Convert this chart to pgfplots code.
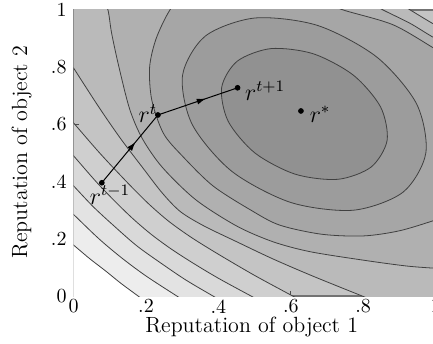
\documentclass[border=0pt]{standalone}
\usepackage{pgfplots}
\pgfplotsset{compat=1.18}
\usetikzlibrary{decorations.markings,arrows.meta}
\definecolor{sA}{gray}{0.57}
\definecolor{sB}{gray}{0.61}
\definecolor{sC}{gray}{0.65}
\definecolor{sD}{gray}{0.69}
\definecolor{sE}{gray}{0.73}
\definecolor{sF}{gray}{0.77}
\definecolor{sG}{gray}{0.81}
\definecolor{sH}{gray}{0.85}
\definecolor{sI}{gray}{0.89}
\definecolor{sJ}{gray}{0.93}
\tikzset{cont/.style={draw=black!75, line width=0.4pt, smooth cycle}}
\begin{document}
\begin{tikzpicture}
\path[use as bounding box] (-36.8pt,-23.5pt) rectangle (179.7pt,148pt);
\begin{axis}[
  scale only axis, width=181pt, height=143pt,
  xmin=0, xmax=1, ymin=0, ymax=1,
  xtick={0,0.2,0.4,0.6,0.8,1}, xticklabels={0,.2,.4,.6,.8,1},
  ytick={0,0.2,0.4,0.6,0.8,1}, yticklabels={0,.2,.4,.6,.8,1},
  xtick pos=left, ytick pos=left, tick align=inside, major tick length=2.5pt,
  tick style={black!70, line width=0.5pt},
  axis line style={draw=black!55, line width=0.8pt},
  axis background/.style={fill=sF},
  ticklabel style={font=\fontsize{10}{12}\selectfont},
  xticklabel style={yshift=1.8pt},
  label style={font=\fontsize{11}{13}\selectfont},
  xlabel={Reputation of object 1}, ylabel={Reputation of object 2},
  xlabel style={at={(axis description cs:0.492,-0.108)}, anchor=center},
  ylabel style={at={(axis description cs:-0.1436,0.503)}, anchor=center},
]
% lower-left regions (outer contours)
\addplot[cont, fill=sG] coordinates {(-0.14,0.81) (-0.045,0.67) (0,0.605) (0.072,0.50) (0.146,0.40) (0.205,0.325) (0.262,0.262) (0.325,0.205) (0.40,0.146) (0.50,0.072) (0.605,0) (0.67,-0.045) (0.81,-0.14) (-0.3,-0.3)};
\addplot[cont, fill=sH] coordinates {(-0.13,0.68) (-0.04,0.548) (0,0.49) (0.062,0.40) (0.115,0.33) (0.164,0.27) (0.215,0.215) (0.27,0.164) (0.33,0.115) (0.40,0.062) (0.49,0) (0.548,-0.04) (0.68,-0.13) (-0.3,-0.3)};
\addplot[cont, fill=sI] coordinates {(-0.12,0.55) (-0.04,0.44) (0,0.385) (0.056,0.31) (0.116,0.24) (0.175,0.175) (0.24,0.116) (0.31,0.056) (0.385,0) (0.44,-0.04) (0.55,-0.12) (-0.3,-0.3)};
\addplot[cont, fill=sJ] coordinates {(-0.12,0.43) (-0.04,0.334) (0,0.285) (0.07,0.20) (0.133,0.133) (0.20,0.07) (0.285,0) (0.334,-0.04) (0.43,-0.12) (-0.3,-0.3)};
\addplot[cont, fill=white] coordinates {(-0.12,0.31) (-0.04,0.22) (0,0.178) (0.045,0.13) (0.088,0.088) (0.13,0.045) (0.178,0) (0.22,-0.04) (0.31,-0.12) (-0.3,-0.3)};
% C5
\addplot[cont, fill=sE] coordinates {(-0.1,1.05) (-0.035,0.866) (0,0.797) (0.07,0.66) (0.13,0.55) (0.19,0.45) (0.245,0.36) (0.295,0.295) (0.36,0.245) (0.45,0.19) (0.55,0.13) (0.66,0.07) (0.797,0) (0.866,-0.035) (1.05,-0.1) (1.3,0.3) (1.25,0.75) (1.1,0.88) (1.0,0.947) (0.93,1.0) (0.86,1.053) (0.75,1.12) (0.45,1.25) (0.1,1.22)};
% C4
\addplot[cont, fill=sD] coordinates {(0.095,1.0) (0.105,0.919) (0.125,0.802) (0.155,0.653) (0.19,0.55) (0.245,0.45) (0.337,0.337) (0.45,0.245) (0.55,0.19) (0.653,0.155) (0.802,0.125) (0.919,0.105) (1.0,0.097) (1.08,0.092) (1.25,0.3) (1.25,0.7) (1.09,0.845) (1.0,0.90) (0.93,0.953) (0.855,1.0) (0.78,1.05) (0.65,1.13) (0.4,1.2) (0.2,1.2) (0.075,1.08)};
% C3
\addplot[cont, fill=sC] coordinates {(0.266,1.0) (0.228,0.90) (0.210,0.80) (0.216,0.685) (0.248,0.569) (0.30,0.49) (0.385,0.385) (0.49,0.30) (0.569,0.248) (0.685,0.216) (0.80,0.21) (0.90,0.228) (1.0,0.266) (1.06,0.295) (1.15,0.45) (1.12,0.72) (1.05,0.83) (1.0,0.863) (0.883,0.948) (0.745,1.0) (0.66,1.04) (0.45,1.08) (0.31,1.06)};
% C2
\addplot[cont, fill=sB] coordinates {(0.837,0.836) (0.947,0.673) (0.973,0.500) (0.910,0.363) (0.773,0.300) (0.600,0.327) (0.437,0.436) (0.328,0.599) (0.301,0.772) (0.364,0.909) (0.501,0.972) (0.674,0.946)};
% C1
\addplot[cont, fill=sA] coordinates {(0.773,0.772) (0.848,0.661) (0.866,0.544) (0.822,0.451) (0.730,0.408) (0.612,0.426) (0.501,0.500) (0.427,0.611) (0.409,0.729) (0.452,0.821) (0.545,0.865) (0.662,0.847)};
% path
\addplot[black, line width=0.5pt, postaction={decorate}, decoration={markings, mark=at position 0.6 with {\arrow{Latex[length=4.5pt,width=3pt]}}}] coordinates {(0.078,0.396) (0.233,0.633)};
\addplot[black, line width=0.5pt, postaction={decorate}, decoration={markings, mark=at position 0.6 with {\arrow{Latex[length=4.5pt,width=3pt]}}}] coordinates {(0.233,0.633) (0.453,0.728)};
\addplot[only marks, mark=*, mark size=1.2pt, black] coordinates {(0.078,0.396) (0.233,0.633) (0.453,0.728) (0.628,0.647)};
\node[font=\fontsize{11.5}{13}\selectfont, inner sep=0pt] at (axis cs:0.1006,0.353) {$r^{t-1}$};
\node[font=\fontsize{11.5}{13}\selectfont, inner sep=0pt] at (axis cs:0.205,0.638) {$r^{t}$};
\node[font=\fontsize{11.5}{13}\selectfont, inner sep=0pt] at (axis cs:0.529,0.7175) {$r^{t+1}$};
\node[font=\fontsize{11.5}{13}\selectfont, inner sep=0pt] at (axis cs:0.681,0.636) {$r^{*}$};
\end{axis}
\end{tikzpicture}
\end{document}
